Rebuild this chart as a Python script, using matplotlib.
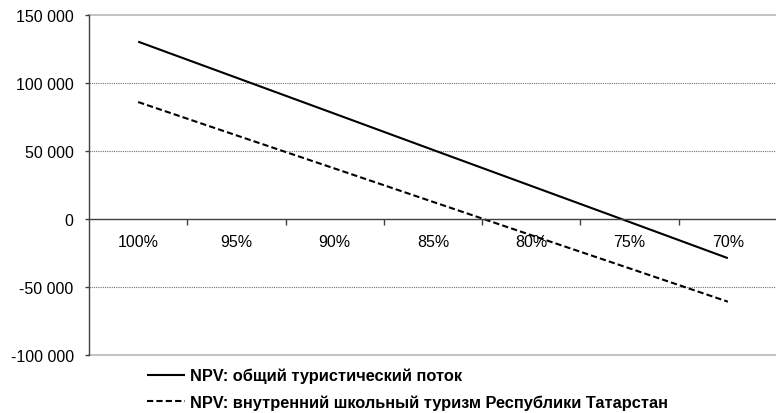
import matplotlib
matplotlib.use("Agg")
import matplotlib.pyplot as plt
from matplotlib.ticker import FuncFormatter, FixedLocator

plt.rcParams['font.family'] = ['Liberation Sans', 'DejaVu Sans']

categories = ["100%", "95%", "90%", "85%", "80%", "75%", "70%"]
npv_total = [130400, 103900, 77400, 50800, 24300, -2200, -28800]
npv_school = [86000, 61500, 37100, 12600, -11900, -36300, -60800]
series_labels = ["NPV: общий туристический поток",
                 "NPV: внутренний школьный туризм Республики Татарстан"]
y_ticks = [-100000, -50000, 0, 50000, 100000, 150000]

W, H = 776, 414
fig = plt.figure(figsize=(W / 100, H / 100), dpi=100)
ax = fig.add_axes([89 / W, (H - 356) / H, (W + 1 - 89) / W, (356 - 16) / H])

xs = [i + 0.5 for i in range(len(categories))]
l1, = ax.plot(xs, npv_total, color='black', lw=1.5, solid_capstyle='butt')
l2, = ax.plot(xs, npv_school, color='black', lw=1.5, dashes=(3.0, 1.5))

ax.set_xlim(0, len(categories))
ax.set_ylim(-100000, 150000)

# gridlines
for v in [100000, 50000, -50000]:
    ax.axhline(v, color='#707070', lw=0.8, ls=(0, (1, 1)), zorder=0)
ax.axhline(150000, color='#b8b8b8', lw=1.2, zorder=0, clip_on=False)
ax.axhline(-100000, color='#b8b8b8', lw=1.2, zorder=0, clip_on=False)

for s in ['top', 'right']:
    ax.spines[s].set_visible(False)
ax.spines['left'].set_color('#404040')
ax.spines['left'].set_linewidth(1.0)
ax.spines['bottom'].set_position(('data', 0))
ax.spines['bottom'].set_color('#404040')
ax.spines['bottom'].set_linewidth(1.0)

ax.set_yticks(y_ticks)
ax.yaxis.set_major_formatter(FuncFormatter(lambda v, p: f"{int(v):,}".replace(",", " ")))
ax.tick_params(axis='y', direction='out', length=3, width=1, color='#404040',
               labelsize=11.5, pad=8)

ax.xaxis.set_major_locator(FixedLocator(list(range(1, len(categories)))))
ax.xaxis.set_minor_locator(FixedLocator(xs))
ax.set_xticklabels([], minor=False)
ax.set_xticklabels(categories, minor=True)
ax.tick_params(axis='x', which='major', direction='out', length=4, width=1, color='#404040')
ax.tick_params(axis='x', which='minor', length=0, labelsize=11.5, pad=11)

leg = fig.legend([l1, l2], series_labels, loc='upper left',
                 bbox_to_anchor=(147 / W, 1 - 369 / H), frameon=False,
                 borderpad=0, borderaxespad=0, handlelength=2.3,
                 handletextpad=0.3, labelspacing=0.68,
                 prop={'weight': 'bold', 'size': 11.8})

fig.savefig("out.png", dpi=100)
